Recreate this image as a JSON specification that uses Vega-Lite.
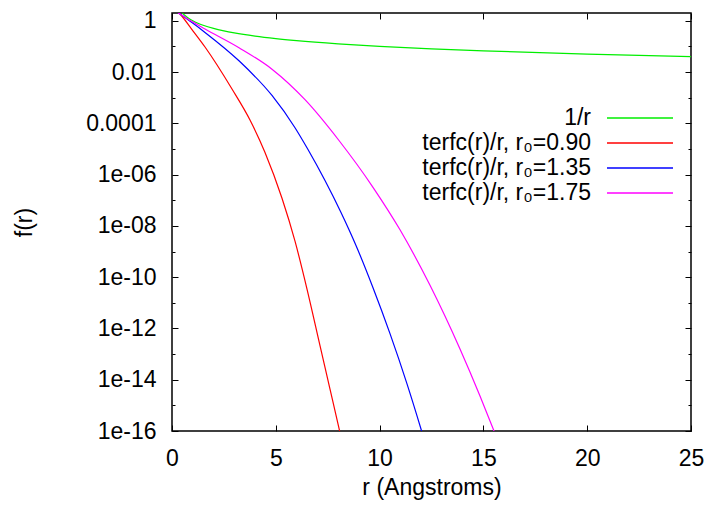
{
  "$schema": "https://vega.github.io/schema/vega-lite/v6.json",
  "width": 519,
  "height": 418,
  "autosize": {"type": "none"},
  "padding": {"left": 172, "top": 13, "right": 21, "bottom": 77},
  "background": "white",
  "config": {
    "font": "Liberation Sans",
    "view": {"stroke": "#000", "strokeWidth": 1.5},
    "axis": {"domain": false, "grid": false, "tickColor": "#000", "tickWidth": 1, "labelColor": "#000", "titleColor": "#000", "labelFont": "Liberation Sans", "titleFont": "Liberation Sans", "labelFontSize": 23, "titleFontSize": 23, "titleFontWeight": "normal"},
    "legend": {"labelFont": "Liberation Sans", "labelFontSize": 23, "labelColor": "#000"}
  },
  "data": {"values": [
    {"series": "1/r", "r": 0.5, "f": 2},
    {"series": "1/r", "r": 0.6, "f": 1.667},
    {"series": "1/r", "r": 0.7, "f": 1.429},
    {"series": "1/r", "r": 0.8, "f": 1.25},
    {"series": "1/r", "r": 1, "f": 1},
    {"series": "1/r", "r": 1.25, "f": 0.8},
    {"series": "1/r", "r": 1.5, "f": 0.6667},
    {"series": "1/r", "r": 2, "f": 0.5},
    {"series": "1/r", "r": 2.5, "f": 0.4},
    {"series": "1/r", "r": 3, "f": 0.3333},
    {"series": "1/r", "r": 4, "f": 0.25},
    {"series": "1/r", "r": 5, "f": 0.2},
    {"series": "1/r", "r": 6, "f": 0.1667},
    {"series": "1/r", "r": 8, "f": 0.125},
    {"series": "1/r", "r": 10, "f": 0.1},
    {"series": "1/r", "r": 12.5, "f": 0.08},
    {"series": "1/r", "r": 15, "f": 0.06667},
    {"series": "1/r", "r": 20, "f": 0.05},
    {"series": "1/r", "r": 25, "f": 0.04},

    {"series": "terfc(r)/r, r₀=0.90", "r": 0.2, "f": 2.58},
    {"series": "terfc(r)/r, r₀=0.90", "r": 0.385, "f": 1.828},
    {"series": "terfc(r)/r, r₀=0.90", "r": 0.963, "f": 0.4508},
    {"series": "terfc(r)/r, r₀=0.90", "r": 1.59, "f": 0.09441},
    {"series": "terfc(r)/r, r₀=0.90", "r": 2.89, "f": 0.002173},
    {"series": "terfc(r)/r, r₀=0.90", "r": 3.757, "f": 1.343e-4},
    {"series": "terfc(r)/r, r₀=0.90", "r": 4.48, "f": 7.261e-6},
    {"series": "terfc(r)/r, r₀=0.90", "r": 5.299, "f": 1.189e-7},
    {"series": "terfc(r)/r, r₀=0.90", "r": 5.925, "f": 2.523e-9},
    {"series": "terfc(r)/r, r₀=0.90", "r": 6.503, "f": 3.443e-11},
    {"series": "terfc(r)/r, r₀=0.90", "r": 7.129, "f": 2.138e-13},
    {"series": "terfc(r)/r, r₀=0.90", "r": 7.611, "f": 4.305e-15},
    {"series": "terfc(r)/r, r₀=0.90", "r": 8.059, "f": 1.132e-16},
    {"series": "terfc(r)/r, r₀=0.90", "r": 8.333, "f": 1.268e-17},

    {"series": "terfc(r)/r, r₀=1.35", "r": 0.2, "f": 2.33},
    {"series": "terfc(r)/r, r₀=1.35", "r": 0.385, "f": 1.828},
    {"series": "terfc(r)/r, r₀=1.35", "r": 0.963, "f": 0.8453},
    {"series": "terfc(r)/r, r₀=1.35", "r": 1.59, "f": 0.3499},
    {"series": "terfc(r)/r, r₀=1.35", "r": 3.227, "f": 0.02735},
    {"series": "terfc(r)/r, r₀=1.35", "r": 4.817, "f": 0.001213},
    {"series": "terfc(r)/r, r₀=1.35", "r": 5.925, "f": 6.73e-5},
    {"series": "terfc(r)/r, r₀=1.35", "r": 6.551, "f": 9.506e-6},
    {"series": "terfc(r)/r, r₀=1.35", "r": 7.37, "f": 5.875e-7},
    {"series": "terfc(r)/r, r₀=1.35", "r": 8.141, "f": 3.319e-8},
    {"series": "terfc(r)/r, r₀=1.35", "r": 8.863, "f": 1.714e-9},
    {"series": "terfc(r)/r, r₀=1.35", "r": 9.682, "f": 3.873e-11},
    {"series": "terfc(r)/r, r₀=1.35", "r": 10.501, "f": 6.281e-13},
    {"series": "terfc(r)/r, r₀=1.35", "r": 11.32, "f": 6.918e-15},
    {"series": "terfc(r)/r, r₀=1.35", "r": 11.994, "f": 1.197e-16},
    {"series": "terfc(r)/r, r₀=1.35", "r": 12.428, "f": 7.656e-18},

    {"series": "terfc(r)/r, r₀=1.75", "r": 0.2, "f": 2.29},
    {"series": "terfc(r)/r, r₀=1.75", "r": 0.385, "f": 1.828},
    {"series": "terfc(r)/r, r₀=1.75", "r": 0.963, "f": 0.9247},
    {"series": "terfc(r)/r, r₀=1.75", "r": 1.59, "f": 0.4753},
    {"series": "terfc(r)/r, r₀=1.75", "r": 3.227, "f": 0.08872},
    {"series": "terfc(r)/r, r₀=1.75", "r": 4.817, "f": 0.01285},
    {"series": "terfc(r)/r, r₀=1.75", "r": 6.407, "f": 8.318e-4},
    {"series": "terfc(r)/r, r₀=1.75", "r": 8.044, "f": 2.133e-5},
    {"series": "terfc(r)/r, r₀=1.75", "r": 9.682, "f": 3.192e-7},
    {"series": "terfc(r)/r, r₀=1.75", "r": 10.983, "f": 7.015e-9},
    {"series": "terfc(r)/r, r₀=1.75", "r": 12.428, "f": 4.808e-11},
    {"series": "terfc(r)/r, r₀=1.75", "r": 13.873, "f": 1.574e-13},
    {"series": "terfc(r)/r, r₀=1.75", "r": 14.836, "f": 2.317e-15},
    {"series": "terfc(r)/r, r₀=1.75", "r": 15.511, "f": 1.0e-16},
    {"series": "terfc(r)/r, r₀=1.75", "r": 16.04, "f": 7.656e-18}
  ]},
  "layer": [
    {
      "mark": {"type": "line", "clip": true, "interpolate": "monotone", "strokeWidth": 1.2},
      "encoding": {
        "x": {"field": "r", "type": "quantitative", "scale": {"domain": [0, 25], "nice": false, "zero": false},
              "axis": {"orient": "bottom", "values": [0, 5, 10, 15, 20, 25], "format": "d", "tickSize": -6, "labelPadding": 22, "title": "r (Angstroms)", "titlePadding": 6, "labelFlush": false}},
        "y": {"field": "f", "type": "quantitative", "scale": {"type": "log", "domain": [1e-16, 2], "nice": false},
              "axis": {"orient": "left", "values": [1, 0.01, 0.0001, 1e-6, 1e-8, 1e-10, 1e-12, 1e-14, 1e-16], "tickSize": -6, "labelPadding": 22, "title": "f(r)", "titlePadding": 49, "labelFlush": false,
                       "labelExpr": "round(log(datum.value)/LN10) == 0 ? '1' : round(log(datum.value)/LN10) == -2 ? '0.01' : round(log(datum.value)/LN10) == -4 ? '0.0001' : '1e-' + (round(log(datum.value)/LN10) > -10 ? '0' : '') + (-round(log(datum.value)/LN10))"}},
        "color": {"field": "series", "type": "nominal",
                  "scale": {"domain": ["1/r", "terfc(r)/r, r₀=0.90", "terfc(r)/r, r₀=1.35", "terfc(r)/r, r₀=1.75"], "range": ["#00ee00", "#ff0000", "#0000ff", "#ff00ff"]},
                  "legend": {"orient": "none", "legendX": 456, "legendY": 93, "title": null, "symbolType": "M-3,0H3", "symbolSize": 484, "symbolStrokeWidth": 1.5, "labelAlign": "right", "labelOffset": -61, "labelLimit": 500, "rowPadding": 1, "padding": 0}}
      }
    },
    {
      "mark": {"type": "line", "clip": true, "opacity": 0},
      "encoding": {
        "x": {"field": "r", "type": "quantitative", "axis": {"orient": "top", "values": [0, 5, 10, 15, 20, 25], "tickSize": -6, "labels": false, "title": null}},
        "y": {"field": "f", "type": "quantitative", "axis": {"orient": "right", "values": [1, 0.01, 0.0001, 1e-6, 1e-8, 1e-10, 1e-12, 1e-14, 1e-16], "tickSize": -6, "labels": false, "title": null}},
        "detail": {"field": "series", "type": "nominal"}
      }
    },
    {
      "mark": {"type": "line", "clip": true, "opacity": 0},
      "encoding": {
        "x": {"field": "r", "type": "quantitative", "axis": null},
        "y": {"field": "f", "type": "quantitative", "axis": {"orient": "left", "values": [0.1, 0.001, 1e-5, 1e-7, 1e-9, 1e-11, 1e-13, 1e-15], "tickSize": -3, "labels": false, "title": null}},
        "detail": {"field": "series", "type": "nominal"}
      }
    },
    {
      "mark": {"type": "line", "clip": true, "opacity": 0},
      "encoding": {
        "x": {"field": "r", "type": "quantitative", "axis": null},
        "y": {"field": "f", "type": "quantitative", "axis": {"orient": "right", "values": [0.1, 0.001, 1e-5, 1e-7, 1e-9, 1e-11, 1e-13, 1e-15], "tickSize": -3, "labels": false, "title": null}},
        "detail": {"field": "series", "type": "nominal"}
      }
    }
  ],
  "resolve": {"axis": {"x": "independent", "y": "independent"}}
}
